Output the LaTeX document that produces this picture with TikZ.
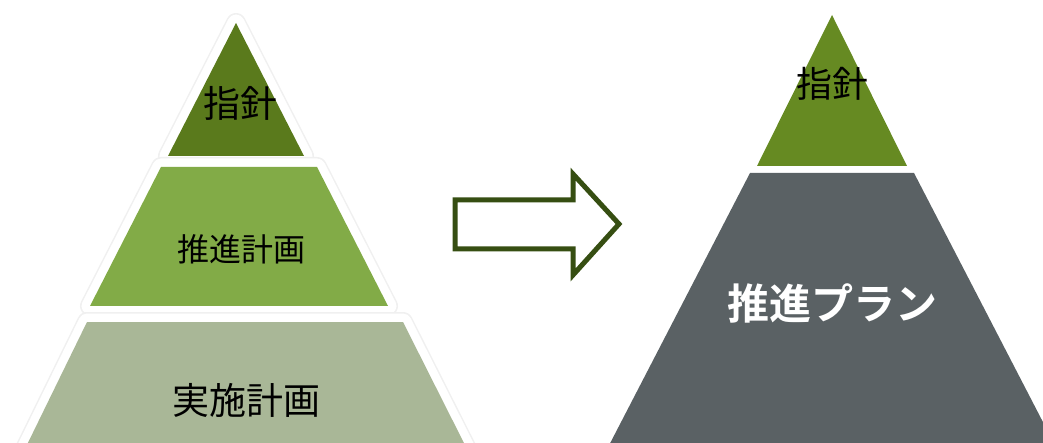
\documentclass[tikz,border=0pt]{standalone}
\usepackage{fontspec}
\newfontfamily\jpfont{Noto Sans CJK JP}
\newfontfamily\jpbold{Noto Sans CJK JP Bold}
\definecolor{topL}{HTML}{5A7A1C}
\definecolor{midL}{HTML}{82AB47}
\definecolor{botL}{HTML}{A9B797}
\definecolor{topR}{HTML}{668A22}
\definecolor{grayR}{HTML}{5A6164}
\definecolor{arrowC}{HTML}{364E12}
\tikzset{
  shadowline/.style={draw=black!6, line width=20pt, line join=round},
  whiteline/.style={draw=white, line width=17pt, line join=round},
  lbl/.style={font=\jpfont, text=black, inner sep=0pt},
}
\begin{document}
\begin{tikzpicture}[x=1pt,y=-1pt]
\useasboundingbox (0,0) rectangle (1043,443);
\begin{scope}
\clip (0,0) rectangle (1043,443);
% left pyramid top
\draw[shadowline] (236,23) -- (304,156) -- (168,156) -- cycle;
\draw[whiteline] (236,23) -- (304,156) -- (168,156) -- cycle;
\fill[topL] (236,23) -- (304,156) -- (168,156) -- cycle;
% middle
\draw[shadowline] (161,167) -- (317,167) -- (388,306) -- (90,306) -- cycle;
\draw[whiteline] (161,167) -- (317,167) -- (388,306) -- (90,306) -- cycle;
\fill[midL] (161,167) -- (317,167) -- (388,306) -- (90,306) -- cycle;
% bottom
\draw[shadowline] (87,322) -- (403,322) -- (470,455) -- (22,455) -- cycle;
\draw[whiteline] (87,322) -- (403,322) -- (470,455) -- (22,455) -- cycle;
\fill[botL] (87,322) -- (403,322) -- (470,455) -- (22,455) -- cycle;
% right pyramid
\fill[topR] (832,15) -- (907,166) -- (757,166) -- cycle;
\fill[grayR] (750,173) -- (914,173) -- (1060,455) -- (604,455) -- cycle;
\end{scope}
% labels
\node[lbl, font=\jpfont\fontsize{37}{37}\selectfont] (l1) at (240,103) {指針};
\node[lbl, font=\jpfont\fontsize{32}{32}\selectfont] (l2) at (241,249) {推進計画};
\node[lbl, font=\jpfont\fontsize{37}{37}\selectfont] (l3) at (246,400) {実施計画};
\node[lbl, font=\jpfont\fontsize{36}{36}\selectfont] (r1) at (832,84) {指針};
\node[lbl, font=\jpbold\fontsize{42}{42}\selectfont, text=white] (r2) at (832,303) {推進プラン};
% arrow
\draw[arrowC, line width=5pt, miter limit=10] (455,200) -- (573,200) -- (573,174) -- (619,224) -- (573,275) -- (573,249) -- (455,249) -- cycle;
\end{tikzpicture}
\end{document}
